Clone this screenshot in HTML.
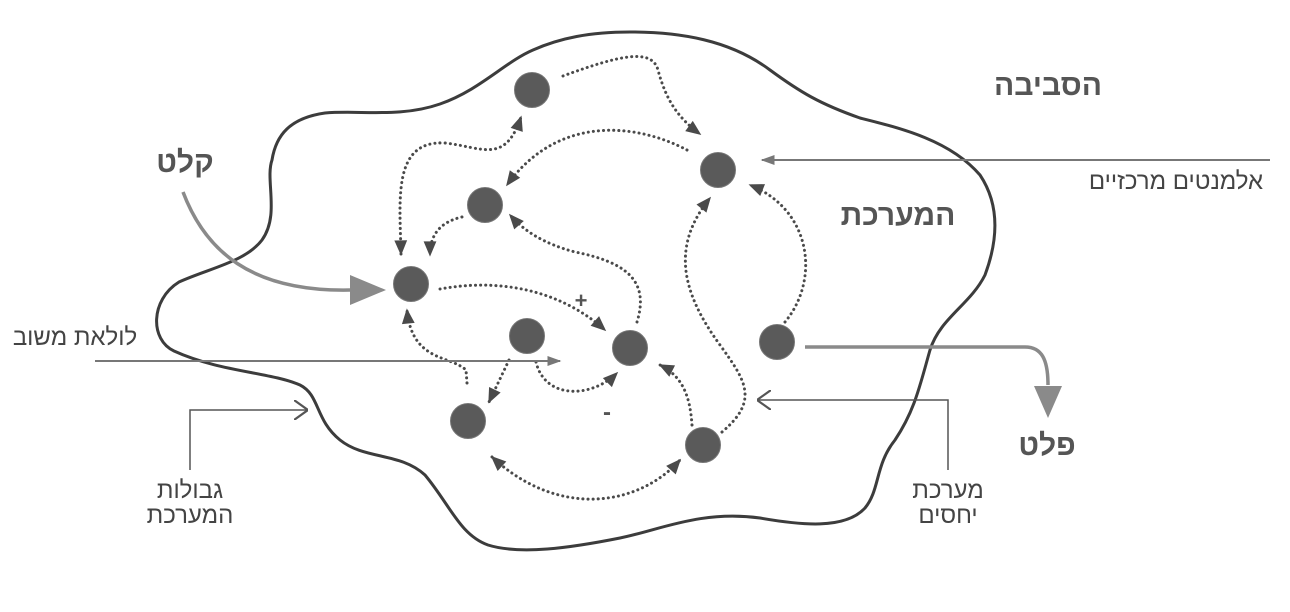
<!DOCTYPE html>
<html><head><meta charset="utf-8"><style>
html,body{margin:0;padding:0;background:#fff;}
svg{display:block;}
text{font-family:"Liberation Sans","DejaVu Sans",sans-serif;fill:#555;}
.b{font-weight:bold;font-size:30px;fill:#555;}
.n{font-size:24px;fill:#444;}
</style></head><body>
<svg width="1290" height="612" viewBox="0 0 1290 612" xmlns="http://www.w3.org/2000/svg">
<defs>
<marker id="ah" viewBox="0 0 10 10" refX="8" refY="5" markerWidth="8" markerHeight="8" markerUnits="userSpaceOnUse" orient="auto" style="overflow:visible">
<path d="M-9,-3 L10,5 L-9,13 z" fill="#4a4a4a"/>
</marker>
<marker id="ahs" viewBox="0 0 10 10" refX="8" refY="5" markerWidth="8" markerHeight="8" markerUnits="userSpaceOnUse" orient="auto-start-reverse" style="overflow:visible">
<path d="M-9,-3 L10,5 L-9,13 z" fill="#4a4a4a"/>
</marker>
<marker id="ga" viewBox="0 0 10 10" refX="9" refY="5" markerWidth="14" markerHeight="10" markerUnits="userSpaceOnUse" orient="auto" preserveAspectRatio="none">
<path d="M0,0 L10,5 L0,10 z" fill="#777"/>
</marker>
<marker id="oa" viewBox="0 0 10 10" refX="10" refY="5" markerWidth="14" markerHeight="20" markerUnits="userSpaceOnUse" orient="auto" preserveAspectRatio="none">
<path d="M0,0 L10,5 L0,10" fill="none" stroke="#555" stroke-width="1.2"/>
</marker>
</defs>

<path d="M174,351 C150,340 150,300 179,282 C210,268 245,262 262,240 C280,215 265,180 272,160 C276,135 290,118 325,113 C360,110 400,118 440,104 C480,90 505,62 533,50 C560,38 590,32 630,32 C680,32 730,40 770,70 C800,92 820,104 860,118 C900,128 950,140 980,175 C1000,205 998,240 985,275 C970,305 940,318 930,350 C920,385 915,410 895,440 C875,465 880,490 865,508 C845,530 800,525 760,518 C700,510 660,530 620,538 C570,548 520,555 488,545 C460,535 450,505 425,475 C400,452 365,460 340,440 C315,420 320,395 300,385 C270,372 220,372 174,351 Z" fill="none" stroke="#3c3c3c" stroke-width="3"/>

<g fill="none" stroke="#4a4a4a" stroke-width="3" stroke-dasharray="0.1 5" stroke-linecap="round">
<path d="M563,76 C620,55 652,48 658,70 C666,100 678,118 700,134" marker-end="url(#ah)"/>
<path d="M687,150 C640,125 560,112 507,185" marker-end="url(#ah)"/>
<path d="M401,254 C400,200 392,140 445,143 C482,147 505,165 521,117" marker-end="url(#ah)" marker-start="url(#ahs)"/>
<path d="M462,217 C440,222 430,235 430,255" marker-end="url(#ah)"/>
<path d="M637,322 C650,280 625,262 575,252 C545,244 525,232 510,215" marker-end="url(#ah)"/>
<path d="M440,289 C500,278 560,290 605,330" marker-end="url(#ah)"/>
<path d="M467,383 L466,370 C450,355 412,362 407,310" marker-end="url(#ah)"/>
<path d="M509,360 L489,402" marker-end="url(#ah)"/>
<path d="M536,362 C545,400 592,398 617,373" marker-end="url(#ah)"/>
<path d="M692,425 C690,395 682,376 660,365" marker-end="url(#ah)"/>
<path d="M722,432 C760,400 745,380 720,345 C680,290 672,245 710,198" marker-end="url(#ah)"/>
<path d="M785,322 C820,280 812,210 750,185" marker-end="url(#ah)"/>
<path d="M492,457 C560,520 640,505 680,460" marker-end="url(#ah)" marker-start="url(#ahs)"/>
</g>

<g fill="#5a5a5a" stroke="#777" stroke-width="1">
<circle cx="532" cy="90" r="17.5"/>
<circle cx="718" cy="170" r="17.5"/>
<circle cx="485" cy="205" r="17.5"/>
<circle cx="411" cy="284" r="17.5"/>
<circle cx="527" cy="336" r="17.5"/>
<circle cx="630" cy="348" r="17.5"/>
<circle cx="777" cy="342" r="17.5"/>
<circle cx="468" cy="421" r="17.5"/>
<circle cx="703" cy="445" r="17.5"/>
</g>

<path d="M183,192 C205,250 250,292 350,290" fill="none" stroke="#8a8a8a" stroke-width="3.5"/>
<path d="M350,275 L386,290 L350,305 z" fill="#8a8a8a"/>
<path d="M805,347 L1025,347 C1042,347 1048,360 1048,385" fill="none" stroke="#8a8a8a" stroke-width="3.5"/>
<path d="M1034,386 L1062,386 L1048,418 z" fill="#8a8a8a"/>

<line x1="95" y1="361" x2="560" y2="361" stroke="#777" stroke-width="2" marker-end="url(#ga)"/>
<line x1="1270" y1="160" x2="762" y2="160" stroke="#777" stroke-width="2" marker-end="url(#ga)"/>
<path d="M190,470 L190,410 L308,410" fill="none" stroke="#555" stroke-width="1.5" marker-end="url(#oa)"/>
<path d="M948,470 L948,400 L757,400" fill="none" stroke="#555" stroke-width="1.5" marker-end="url(#oa)"/>

<text x="581" y="308" font-size="22" font-weight="bold" text-anchor="middle" fill="#444">+</text>
<text x="607" y="420" font-size="24" font-weight="bold" text-anchor="middle" fill="#444">-</text>
<text class="b" x="1048" y="95" text-anchor="middle">הסביבה</text>
<text class="b" x="898" y="225" text-anchor="middle">המערכת</text>
<text class="b" x="185" y="172" text-anchor="middle">קלט</text>
<text class="b" x="1047" y="455" text-anchor="middle">פלט</text>
<text class="n" x="1176" y="189" text-anchor="middle">אלמנטים מרכזיים</text>
<text class="n" x="75" y="345" text-anchor="middle">לולאת משוב</text>
<text class="n" x="190" y="498" text-anchor="middle">גבולות</text>
<text class="n" x="190" y="523" text-anchor="middle">המערכת</text>
<text class="n" x="948" y="498" text-anchor="middle">מערכת</text>
<text class="n" x="948" y="523" text-anchor="middle">יחסים</text>
</svg>
</body></html>
